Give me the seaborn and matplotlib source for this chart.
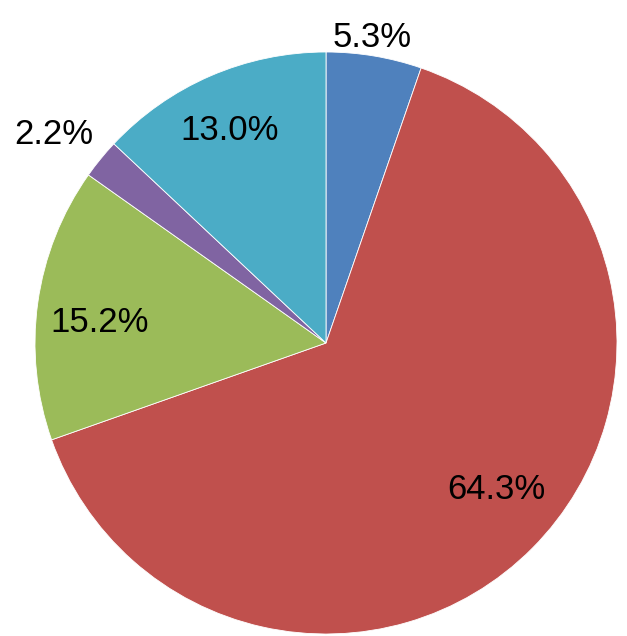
import numpy as np
import matplotlib
matplotlib.use("Agg")
import matplotlib.pyplot as plt
import seaborn as sns

shares = [5.3, 64.3, 15.2, 2.2, 13.0]
pct_labels = ["5.3%", "64.3%", "15.2%", "2.2%", "13.0%"]
colors = ["#4F81BD", "#C0504D", "#9BBB59", "#8064A2", "#4BACC6"]
label_dist = [1.06, 0.772, 0.78, 1.074, 0.803]
label_shift = [1.0, 4.0, 2.8, -2.6, 0.9]  # degrees, nudge from wedge middle
label_ha = ["center", "center", "center", "right", "center"]


def main():
    sns.set_style("white")
    plt.rcParams["font.family"] = ["Liberation Sans", "DejaVu Sans"]

    W, H = 627, 636
    fig = plt.figure(figsize=(W / 100, H / 100), dpi=100)
    cx, cy, r = 326, 343, 291
    ax = fig.add_axes([(cx - r) / W, (H - cy - r) / H, 2 * r / W, 2 * r / H])

    wedges, _ = ax.pie(shares, colors=colors, startangle=90, counterclock=False,
                       radius=1, wedgeprops=dict(edgecolor="white", linewidth=0.6))

    for w, lab, d, s, ha in zip(wedges, pct_labels, label_dist, label_shift, label_ha):
        ang = np.deg2rad((w.theta1 + w.theta2) / 2 + s)
        ax.text(d * np.cos(ang), d * np.sin(ang), lab, ha=ha, va="center",
                fontsize=25, color="black")

    ax.set_xlim(-1, 1)
    ax.set_ylim(-1, 1)
    ax.set_aspect("equal")
    ax.axis("off")
    fig.savefig("out.png", dpi=100)


if __name__ == "__main__":
    main()
